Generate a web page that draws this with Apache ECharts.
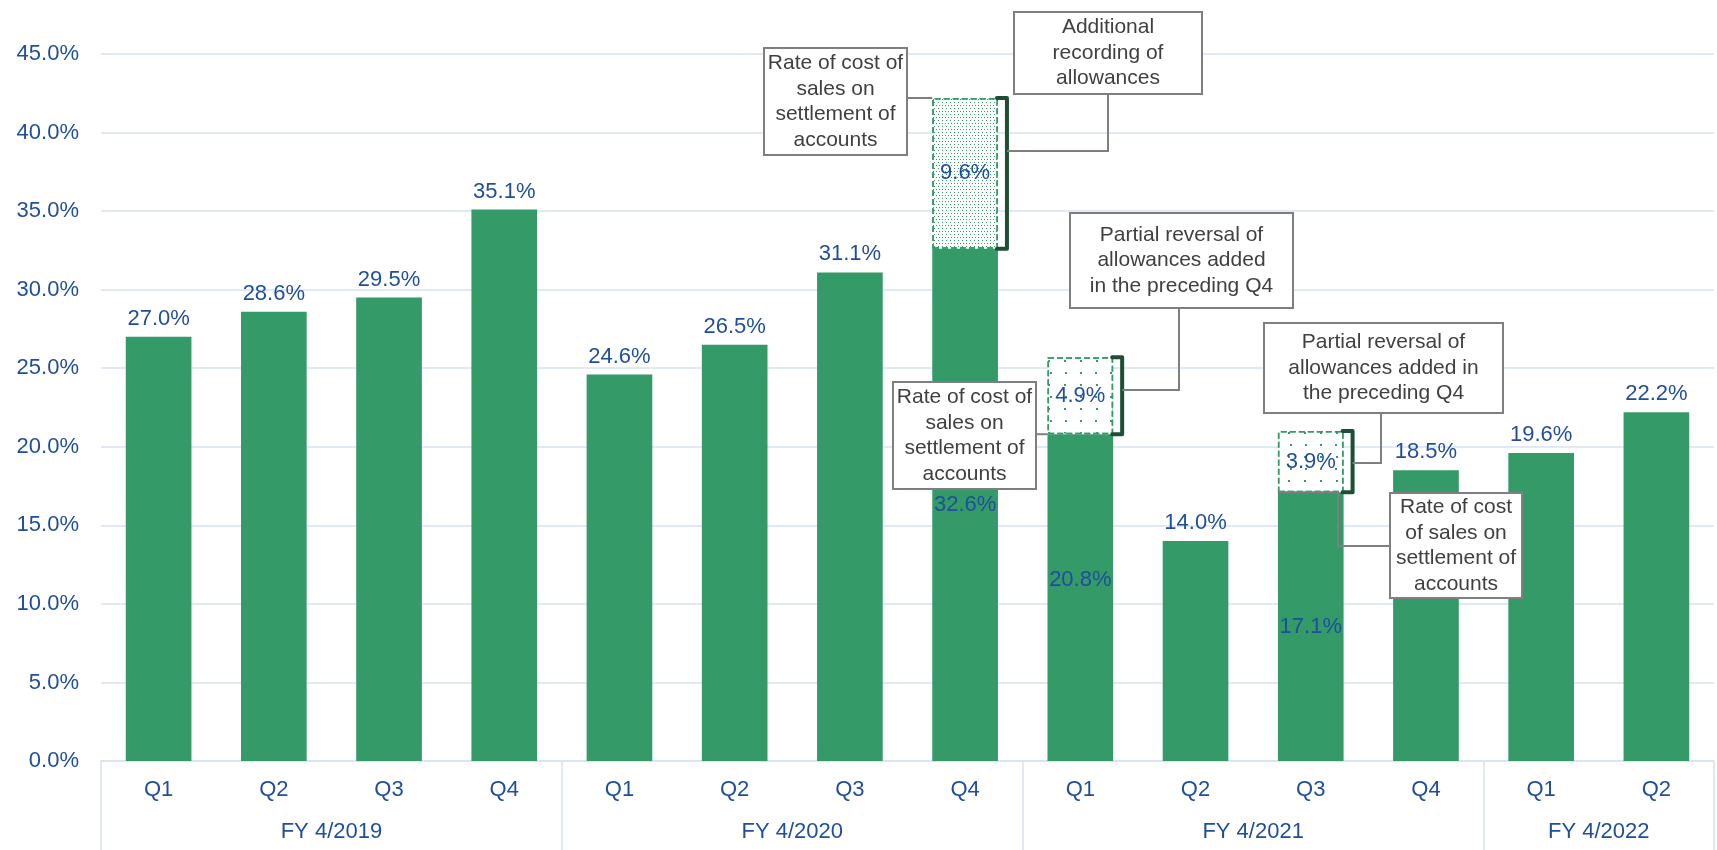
<!DOCTYPE html>
<html>
<head>
<meta charset="utf-8">
<script src="https://cdn.jsdelivr.net/npm/echarts@6/dist/echarts.min.js"></script>
<style>
html,body{margin:0;padding:0;background:#fff;}
#chart{width:1717px;height:850px;}
</style>
</head>
<body>
<div id="chart"></div>
<script>
// ---- data ----
const quarters = ['Q1','Q2','Q3','Q4','Q1','Q2','Q3','Q4','Q1','Q2','Q3','Q4','Q1','Q2'];
const fiscalYears = ['FY 4/2019','FY 4/2020','FY 4/2021','FY 4/2022'];
const quartersPerYear = [4, 4, 4, 2];
const baseRate = [27.0, 28.6, 29.5, 35.1, 24.6, 26.5, 31.1, 32.6, 20.8, 14.0, 17.1, 18.5, 19.6, 22.2];
const allowanceAdj = [null, null, null, null, null, null, null, 9.6, 4.9, null, 3.9, null, null, null];
const yMin = 0, yMax = 45, yStep = 5;

// ---- styles ----
const FONT = '"Liberation Sans", Arial, sans-serif';
const BLUE = '#1F4E9C';
const GREEN = '#349a68';
const DARKGREEN = '#1c4f33';
const GRIDBLUE = '#d9e2f3';
const GRAY = '#7f7f7f';
const BAR_RATIO = 0.57;
const denseDecal = {symbol:'rect', symbolSize:1, color:GREEN, dashArrayX:[[1,2],[0,1.5,1,0.5]], dashArrayY:[1,1.5], rotation:0};
const sparseDecal = {symbol:'rect', symbolSize:1, color:GREEN, dashArrayX:[[2,13],[0,7.5,2,5.5]], dashArrayY:[2,9.5], rotation:0};
const decalByIndex = {7: denseDecal, 8: sparseDecal, 10: sparseDecal};
const labelOffsetByIndex = {8: [0, -18]};

// secondary (fiscal-year) axis: boundary points 0..N
const fyAxisData = [];
const boundaries = new Set([0]);
{
  let start = 0;
  for (let i = 0; i <= quarters.length; i++) fyAxisData.push('');
  fiscalYears.forEach((fy, k) => {
    const n = quartersPerYear[k];
    fyAxisData[start + n / 2] = fy;
    start += n;
    boundaries.add(start);
  });
}

const baseData = baseRate.map((v, i) => {
  const stacked = allowanceAdj[i] != null;
  return {
    value: v,
    label: stacked ? {position: 'inside', offset: labelOffsetByIndex[i] || [0, 0]} : {position: 'top'}
  };
});
const adjData = allowanceAdj.map((v, i) => v == null ? '-' : {
  value: v,
  itemStyle: {color: '#ffffff', borderColor: GREEN, borderWidth: 1.5, borderType: 'dashed', decal: decalByIndex[i]}
});
const bracketData = [];
allowanceAdj.forEach((v, i) => { if (v != null) bracketData.push([i, baseRate[i], baseRate[i] + v]); });

const chart = echarts.init(document.getElementById('chart'), null, {renderer: 'canvas'});
const labelFmt = p => p.value.toFixed(1) + '%';

chart.setOption({
  animation: false,
  backgroundColor: '#ffffff',
  grid: {left: 101, right: 0, top: 54, bottom: 89, containLabel: false},
  xAxis: [
    {
      type: 'category', data: quarters, position: 'bottom', offset: 0,
      axisLine: {lineStyle: {color: GRIDBLUE, width: 1.5}},
      axisTick: {show: false},
      axisLabel: {color: BLUE, fontSize: 22, fontFamily: FONT, margin: 18, interval: 0}
    },
    {
      type: 'category', data: fyAxisData, position: 'bottom', offset: 0, boundaryGap: false,
      axisLine: {show: false},
      axisTick: {show: true, length: 90, interval: (idx) => boundaries.has(idx), lineStyle: {color: GRIDBLUE, width: 1.5}},
      axisLabel: {color: BLUE, fontSize: 22, fontFamily: FONT, margin: 60, interval: 0},
      splitLine: {show: false}
    }
  ],
  yAxis: {
    type: 'value', min: yMin, max: yMax, interval: yStep,
    axisLine: {show: false}, axisTick: {show: false},
    axisLabel: {color: BLUE, fontSize: 22, fontFamily: FONT, margin: 22, formatter: v => v.toFixed(1) + '%'},
    splitLine: {lineStyle: {color: GRIDBLUE, width: 1.5}}
  },
  series: [
    {
      type: 'bar', stack: 'total', data: baseData, barWidth: (BAR_RATIO * 100) + '%',
      itemStyle: {color: GREEN},
      label: {show: true, color: BLUE, fontSize: 22, fontFamily: FONT, distance: 7, formatter: labelFmt},
      z: 2
    },
    {
      type: 'bar', stack: 'total', data: adjData, barWidth: (BAR_RATIO * 100) + '%',
      label: {show: true, position: 'inside', color: BLUE, fontSize: 22, fontFamily: FONT, formatter: labelFmt},
      z: 2
    },
    {
      type: 'custom', data: bracketData, encode: {x: 0, y: [1, 2]}, z: 5, silent: true,
      renderItem: (params, api) => {
        const i = api.value(0);
        const top = api.coord([i, api.value(2)]);
        const bot = api.coord([i, api.value(1)]);
        const bw = api.size([1, 0])[0] * BAR_RATIO;
        const right = top[0] + bw / 2;
        const bx = right + 9;
        return {
          type: 'polyline',
          shape: {points: [[right - 1, top[1]], [bx, top[1]], [bx, bot[1]], [right - 1, bot[1]]]},
          style: {stroke: DARKGREEN, lineWidth: 4, fill: null, lineJoin: 'round', lineCap: 'round'}
        };
      }
    }
  ]
});

// ---- annotations (boxes + leader lines) ----
const px = (i, v) => chart.convertToPixel({xAxisIndex: 0, yAxisIndex: 0}, [i, v]);
const catW = px(1, 0)[0] - px(0, 0)[0];
const barHalf = catW * BAR_RATIO / 2;
const barLeft = i => px(i, 0)[0] - barHalf;
const bracketX = i => px(i, 0)[0] + barHalf + 9;
const yOf = v => px(0, v)[1];

const boxes = [
  {x: 764, y: 48, w: 143, h: 107, text: 'Rate of cost of\nsales on\nsettlement of\naccounts',
   leader: () => [[907, yOf(baseRate[7] + allowanceAdj[7])], [barLeft(7), yOf(baseRate[7] + allowanceAdj[7])]]},
  {x: 1014, y: 12, w: 188, h: 82, text: 'Additional\nrecording of\nallowances',
   leader: () => [[1108, 94], [1108, 151], [bracketX(7), 151]]},
  {x: 1070, y: 213, w: 223, h: 95, text: 'Partial reversal of\nallowances added\nin the preceding Q4',
   leader: () => [[1179, 308], [1179, 390], [bracketX(8), 390]]},
  {x: 893, y: 382, w: 143, h: 107, text: 'Rate of cost of\nsales on\nsettlement of\naccounts',
   leader: () => [[1036, yOf(baseRate[8])], [barLeft(8), yOf(baseRate[8])]]},
  {x: 1264, y: 323, w: 239, h: 90, text: 'Partial reversal of\nallowances added in\nthe preceding Q4',
   leader: () => [[1381, 413], [1381, 463], [bracketX(10), 463]]},
  {x: 1390, y: 493, w: 132, h: 105, text: 'Rate of cost\nof sales on\nsettlement of\naccounts',
   leader: () => [[1390, 546], [1338, 546], [1338, yOf(baseRate[10])], [barLeft(10), yOf(baseRate[10])]]}
];

const graphics = [];
boxes.forEach(b => {
  graphics.push({type: 'polyline', z: 100, shape: {points: b.leader()}, style: {stroke: GRAY, lineWidth: 2, fill: null}});
  graphics.push({type: 'rect', z: 101, shape: {x: b.x, y: b.y, width: b.w, height: b.h}, style: {fill: '#ffffff', stroke: GRAY, lineWidth: 2}});
  graphics.push({type: 'text', z: 102, x: b.x + b.w / 2, y: b.y + b.h / 2,
    style: {text: b.text, fill: '#404040', fontSize: 21, fontFamily: FONT, align: 'center', verticalAlign: 'middle', lineHeight: 25.5}});
});
chart.setOption({graphic: graphics});
</script>
</body>
</html>
